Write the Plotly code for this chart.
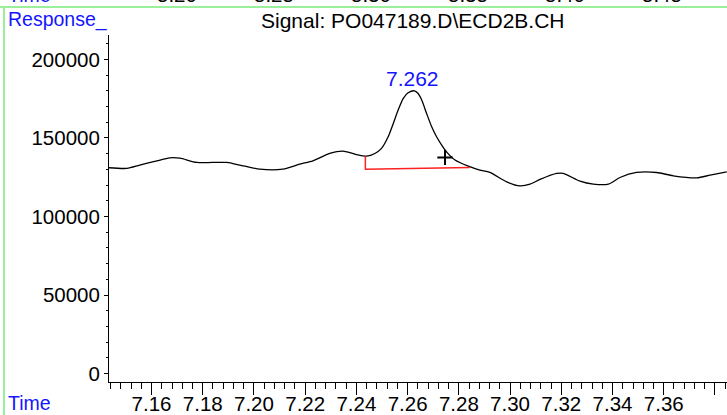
import plotly.graph_objects as go

# ---- data ----
time = [7.1434, 7.1504, 7.1554, 7.1621, 7.1671, 7.1711, 7.1777, 7.1894, 7.1945, 7.2023,
        7.2113, 7.2179, 7.2230, 7.2296, 7.2347, 7.2394, 7.2440, 7.2472, 7.2498, 7.2524,
        7.2544, 7.2563, 7.2583, 7.2602, 7.2626, 7.2641, 7.2655, 7.2674, 7.2694, 7.2713,
        7.2733, 7.2752, 7.2785, 7.2837, 7.2882, 7.2921, 7.2987, 7.3039, 7.3078, 7.3117,
        7.3182, 7.3208, 7.3273, 7.3325, 7.3384, 7.3429, 7.3494, 7.3572, 7.3637, 7.3729,
        7.3781, 7.3846]
response = [131000, 130600, 132700, 135400, 137300, 137100, 134400, 134400, 132700, 130100,
            130100, 133300, 135400, 140100, 141600, 139700, 138400, 140100, 143300, 150700,
            159200, 167700, 175200, 178700, 180000, 178300, 174100, 165600, 157100, 150700,
            145400, 141100, 135900, 132000, 129500, 128000, 122000, 119500, 120600, 123600,
            127400, 127400, 122500, 120600, 120600, 124800, 128000, 128000, 125900, 124600,
            126300, 128400]

baseline_t = [7.2435, 7.2435, 7.2843]
baseline_v = [138400, 130100, 131200]

peak_time = 7.262
peak_value = 180000
peak_label = "7.262"

marker_t = [7.2746]
marker_v = [137600]

x_tickvals = [7.16, 7.18, 7.20, 7.22, 7.24, 7.26, 7.28, 7.30, 7.32, 7.34, 7.36, 7.38]
x_ticktext = ["7.16", "7.18", "7.20", "7.22", "7.24", "7.26", "7.28", "7.30", "7.32", "7.34", "7.36", ""]
y_tickvals = [0, 50000, 100000, 150000, 200000]
y_ticktext = ["0", "50000", "100000", "150000", "200000"]

top_strip_labels = ["5.20", "5.25", "5.30", "5.35", "5.40", "5.45"]

title_text = "Signal: PO047189.D\\ECD2B.CH"

# ---- layout geometry (pixels) ----
W, H = 727, 415
L, R, T, B = 109, 0, 35, 33
PW, PH = W - L - R, H - T - B


def px(x):
    return (x - L) / PW


def py(y):
    return (H - B - y) / PH


FONT = "Liberation Sans, Arial, sans-serif"
BLUE = "#1414ff"
GREEN = "#9af09a"

fig = go.Figure()
fig.add_trace(go.Scatter(x=time, y=response, mode="lines",
                         line=dict(color="black", width=1.3, shape="spline", smoothing=0.7),
                         hoverinfo="skip", showlegend=False))
fig.add_trace(go.Scatter(x=baseline_t, y=baseline_v, mode="lines",
                         line=dict(color="#ff2020", width=1.5),
                         hoverinfo="skip", showlegend=False))
fig.add_trace(go.Scatter(x=marker_t, y=marker_v, mode="markers",
                         marker=dict(symbol="cross-thin", size=11,
                                     line=dict(color="black", width=2)),
                         hoverinfo="skip", showlegend=False))

annotations = [
    dict(x=peak_time, y=peak_value, xref="x", yref="y", text=peak_label, showarrow=False,
         yanchor="bottom", yshift=-1, font=dict(family=FONT, size=21, color=BLUE)),
    dict(x=px(6), y=py(20), xref="paper", yref="paper", text="Response_", showarrow=False,
         xanchor="left", yanchor="middle", font=dict(family=FONT, size=19.5, color=BLUE)),
    dict(x=px(413), y=py(21), xref="paper", yref="paper", text=title_text, showarrow=False,
         xanchor="center", yanchor="middle", font=dict(family=FONT, size=21, color="black")),
    dict(x=px(6), y=py(403), xref="paper", yref="paper", text="Time", showarrow=False,
         xanchor="left", yanchor="middle", font=dict(family=FONT, size=19.5, color=BLUE)),
    dict(x=px(6), y=py(-5), xref="paper", yref="paper", text="Time", showarrow=False,
         xanchor="left", yanchor="middle", font=dict(family=FONT, size=19.5, color=BLUE)),
]
for i, lab in enumerate(top_strip_labels):
    annotations.append(dict(x=px(177 + 97 * i), y=py(-5), xref="paper", yref="paper",
                            text=lab, showarrow=False, xanchor="center", yanchor="middle",
                            font=dict(family=FONT, size=20.5, color="black")))

shapes = [
    dict(type="line", xref="paper", yref="paper", x0=px(0), x1=px(W), y0=py(7), y1=py(7),
         line=dict(color=GREEN, width=2)),
    dict(type="line", xref="paper", yref="paper", x0=px(4), x1=px(4), y0=py(7), y1=py(H),
         line=dict(color=GREEN, width=2)),
]

fig.update_layout(
    width=W, height=H,
    margin=dict(l=L, r=R, t=T, b=B, pad=0, autoexpand=False),
    paper_bgcolor="white", plot_bgcolor="white",
    showlegend=False,
    annotations=annotations,
    shapes=shapes,
    font=dict(family=FONT, size=20.5, color="black"),
)
fig.update_xaxes(range=[7.1434, 7.3847], showgrid=False, zeroline=False, automargin=False,
                 showline=True, linecolor="black", linewidth=1,
                 tickmode="array", tickvals=x_tickvals, ticktext=x_ticktext,
                 ticks="outside", ticklen=12, tickwidth=1, tickcolor="black",
                 ticklabelstandoff=-9,
                 tickfont=dict(family=FONT, size=20.5, color="black"),
                 minor=dict(dtick=0.004, tick0=7.16, ticks="outside", ticklen=6,
                            tickwidth=1, tickcolor="black", showgrid=False))
fig.update_yaxes(range=[-5350, 215500], showgrid=False, zeroline=False, automargin=False,
                 showline=True, linecolor="black", linewidth=1,
                 tickmode="array", tickvals=y_tickvals, ticktext=y_ticktext,
                 ticks="outside", ticklen=4, tickwidth=1, tickcolor="black",
                 tickfont=dict(family=FONT, size=20.5, color="black"),
                 minor=dict(dtick=10000, tick0=0, ticks="outside", ticklen=2,
                            tickwidth=1, tickcolor="black", showgrid=False))

fig.write_html("out.html", config={"displayModeBar": False},
               post_script="document.body.style.margin='0';"
                           "document.body.style.overflow='hidden';")
